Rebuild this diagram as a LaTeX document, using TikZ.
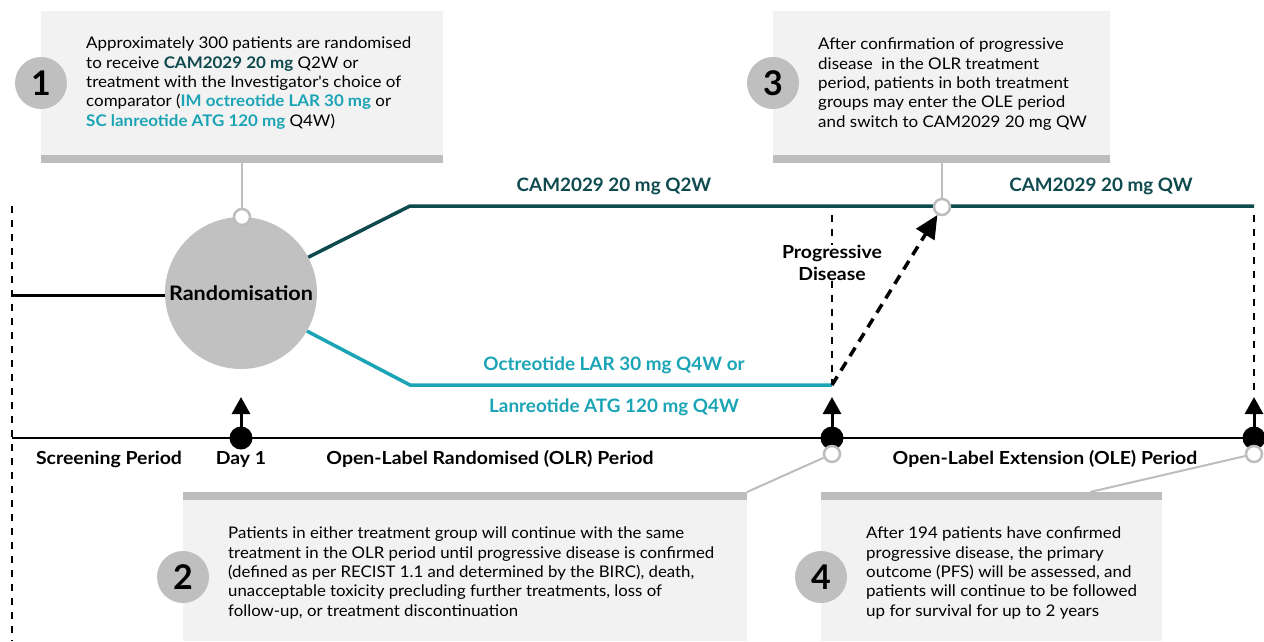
\documentclass[tikz,border=0pt]{standalone}
\usepackage{fontspec}
\setmainfont{Lato}
\newfontfamily\bodyfont[FakeStretch=1.06]{Lato}
\newfontfamily\bodyfontwide[FakeStretch=1.05]{Lato}
\newfontfamily\labelfont[FakeStretch=1.08]{Lato}
\newfontfamily\drugfont[FakeStretch=1.02]{Lato}
\usetikzlibrary{arrows.meta,calc}
\definecolor{darkteal}{HTML}{0E4A4E}
\definecolor{lightteal}{HTML}{1BA4B6}
\definecolor{boxfill}{HTML}{F2F2F2}
\definecolor{bargray}{HTML}{BDBDBD}
\definecolor{numgray}{HTML}{BFBFBF}
\definecolor{randgray}{HTML}{C0C1C0}
\tikzset{
  numcirc/.style={circle, fill=numgray, minimum size=52pt, inner sep=0pt,
    font=\bfseries\fontsize{34}{34}\selectfont},
  bodytext/.style={anchor=north west, align=left, inner sep=0pt,
    font=\bodyfont\fontsize{16}{19.3}\selectfont},
  lbl/.style={inner sep=0pt, font=\labelfont\bfseries\fontsize{18}{22}\selectfont},
  druglbl/.style={inner sep=0pt, font=\drugfont\bfseries\fontsize{18.5}{22}\selectfont},
  opencirc/.style={circle, draw=bargray, line width=2.5pt, fill=white,
    minimum size=16pt, inner sep=0pt},
  blackdot/.style={circle, fill=black, minimum size=23pt, inner sep=0pt},
  leader/.style={draw=bargray, line width=2pt},
  upmark/.style={line width=3pt, -{Triangle[length=17pt,width=18pt]}},
  thindash/.style={line width=1.3pt, dash pattern=on 7pt off 7pt},
}
\begin{document}
\begin{tikzpicture}[x=1pt,y=-1pt]
\useasboundingbox (0,0) rectangle (1264,641);

% ---- callout boxes ----
\fill[boxfill] (41,11) rectangle (443,156);
\fill[bargray] (41,155) rectangle (443,163);
\fill[boxfill] (773,11) rectangle (1110,156);
\fill[bargray] (773,155) rectangle (1110,163);
\fill[boxfill] (183,499) rectangle (747,641);
\fill[bargray] (183,492) rectangle (747,500);
\fill[boxfill] (821,499) rectangle (1162,641);
\fill[bargray] (821,492) rectangle (1162,500);

\coordinate (b1) at (242,163);
\coordinate (b3) at (942,163);
\coordinate (b2) at (747,492);
\coordinate (b4) at (1090,492);

\node[numcirc] (n1) at (41,83) {1};
\node[numcirc] (n3) at (773,83) {3};
\node[numcirc] (n2) at (183,577) {2};
\node[numcirc] (n4) at (821,577) {4};

\node[bodytext] (t1) at (86,37) {Approximately 300 patients are randomised\\
to receive \textbf{\color{darkteal}CAM2029 20 mg} Q2W or\\
treatment with the Investigator's choice of\\
comparator (\textbf{\color{lightteal}IM octreotide LAR 30 mg} or\\
\textbf{\color{lightteal}SC lanreotide ATG 120 mg} Q4W)};

\node[bodytext] (t3) at (818,38) {After confirmation of progressive\\
disease\ \ in the OLR treatment\\
period, patients in both treatment\\
groups may enter the OLE period\\
and switch to CAM2029 20 mg QW};

\node[bodytext, font=\bodyfontwide\fontsize{16}{19.3}\selectfont] (t2) at (228,527)
{Patients in either treatment group will continue with the same\\
treatment in the OLR period until progressive disease is confirmed\\
(defined as per RECIST 1.1 and determined by the BIRC), death,\\
unacceptable toxicity precluding further treatments, loss of\\
follow-up, or treatment discontinuation};

\node[bodytext] (t4) at (866,527) {After 194 patients have confirmed\\
progressive disease, the primary\\
outcome (PFS) will be assessed, and\\
patients will continue to be followed\\
up for survival for up to 2 years};

% ---- period boundaries ----
\coordinate (scrtop) at (12,206);
\coordinate (scrbot) at (12,641);
\draw[thindash, line width=1.5pt] (scrtop) -- (scrbot);

% ---- randomisation ----
\node[circle, fill=randgray, minimum size=152pt, inner sep=0pt,
  font=\labelfont\bfseries\fontsize{20}{20}\selectfont] (rand) at (241,293) {Randomisation};
\coordinate (scrstart) at (12,295);
\draw[line width=3pt] (scrstart) -- (rand.west |- scrstart);

% treatment arms
\coordinate (armA1) at (410,206);
\coordinate (armAend) at (1254,206);
\coordinate (armB1) at (410,385);
\coordinate (pd) at (832,385);
\draw[darkteal, line width=3.5pt] (rand.28) -- (armA1) -- (armAend);
\draw[lightteal, line width=3.5pt] (rand.-30) -- (armB1) -- (pd);

\node[opencirc] (rtop) at (242,217) {};
\draw[leader] (b1) -- (rtop);

\node[opencirc] (sw) at (942,207) {};
\draw[leader] (b3) -- (sw);

\node[druglbl, text=darkteal] (la) at (614,186) {CAM2029 20 mg Q2W};
\node[druglbl, text=darkteal] (lqw) at (1101,186) {CAM2029 20 mg QW};
\node[druglbl, text=lightteal] (lb1) at (614,365) {Octreotide LAR 30 mg Q4W or};
\node[druglbl, text=lightteal] (lb2) at (614,407) {Lanreotide ATG 120 mg Q4W};

% progressive disease
\node[lbl, align=center] (pdl) at (832,263) {Progressive\\Disease};
\coordinate (pdtop) at (832,215);
\draw[thindash] (pdtop) -- (pdl.north);
\draw[thindash] (pdl.south) -- (pd);
\draw[line width=3.5pt, dash pattern=on 10pt off 7pt,
  -{Triangle[length=23pt,width=21pt]}] (pd) -- (sw.-120);

% ---- timeline ----
\coordinate (tlstart) at (12,438);
\coordinate (tlend) at (1264,438);
\draw[line width=2.5pt] (tlstart) -- (tlend);

\node[blackdot] (d1) at (241,438) {};
\node[blackdot] (d2) at (832,438) {};
\node[blackdot] (d3) at (1254,438) {};
\coordinate (a1) at (241,397);
\coordinate (a2) at (832,397);
\coordinate (a3) at (1254,397);
\draw[upmark] (d1.center) -- (a1);
\draw[upmark] (d2.center) -- (a2);
\draw[upmark] (d3.center) -- (a3);
\draw[thindash] (armAend |- pdtop) -- (1254,395);

\node[opencirc] (o2) at (832,454) {};
\node[opencirc] (o4) at (1254,454) {};
\draw[leader] (o2) -- (b2);
\draw[leader] (o4) -- (b4);

\node[lbl] (p0) at (109,459) {Screening Period};
\node[lbl] (p1) at (241,459) {Day 1};
\node[lbl] (p2) at (490,459) {Open-Label Randomised (OLR) Period};
\node[lbl] (p3) at (1045,459) {Open-Label Extension (OLE) Period};
\end{tikzpicture}
\end{document}
